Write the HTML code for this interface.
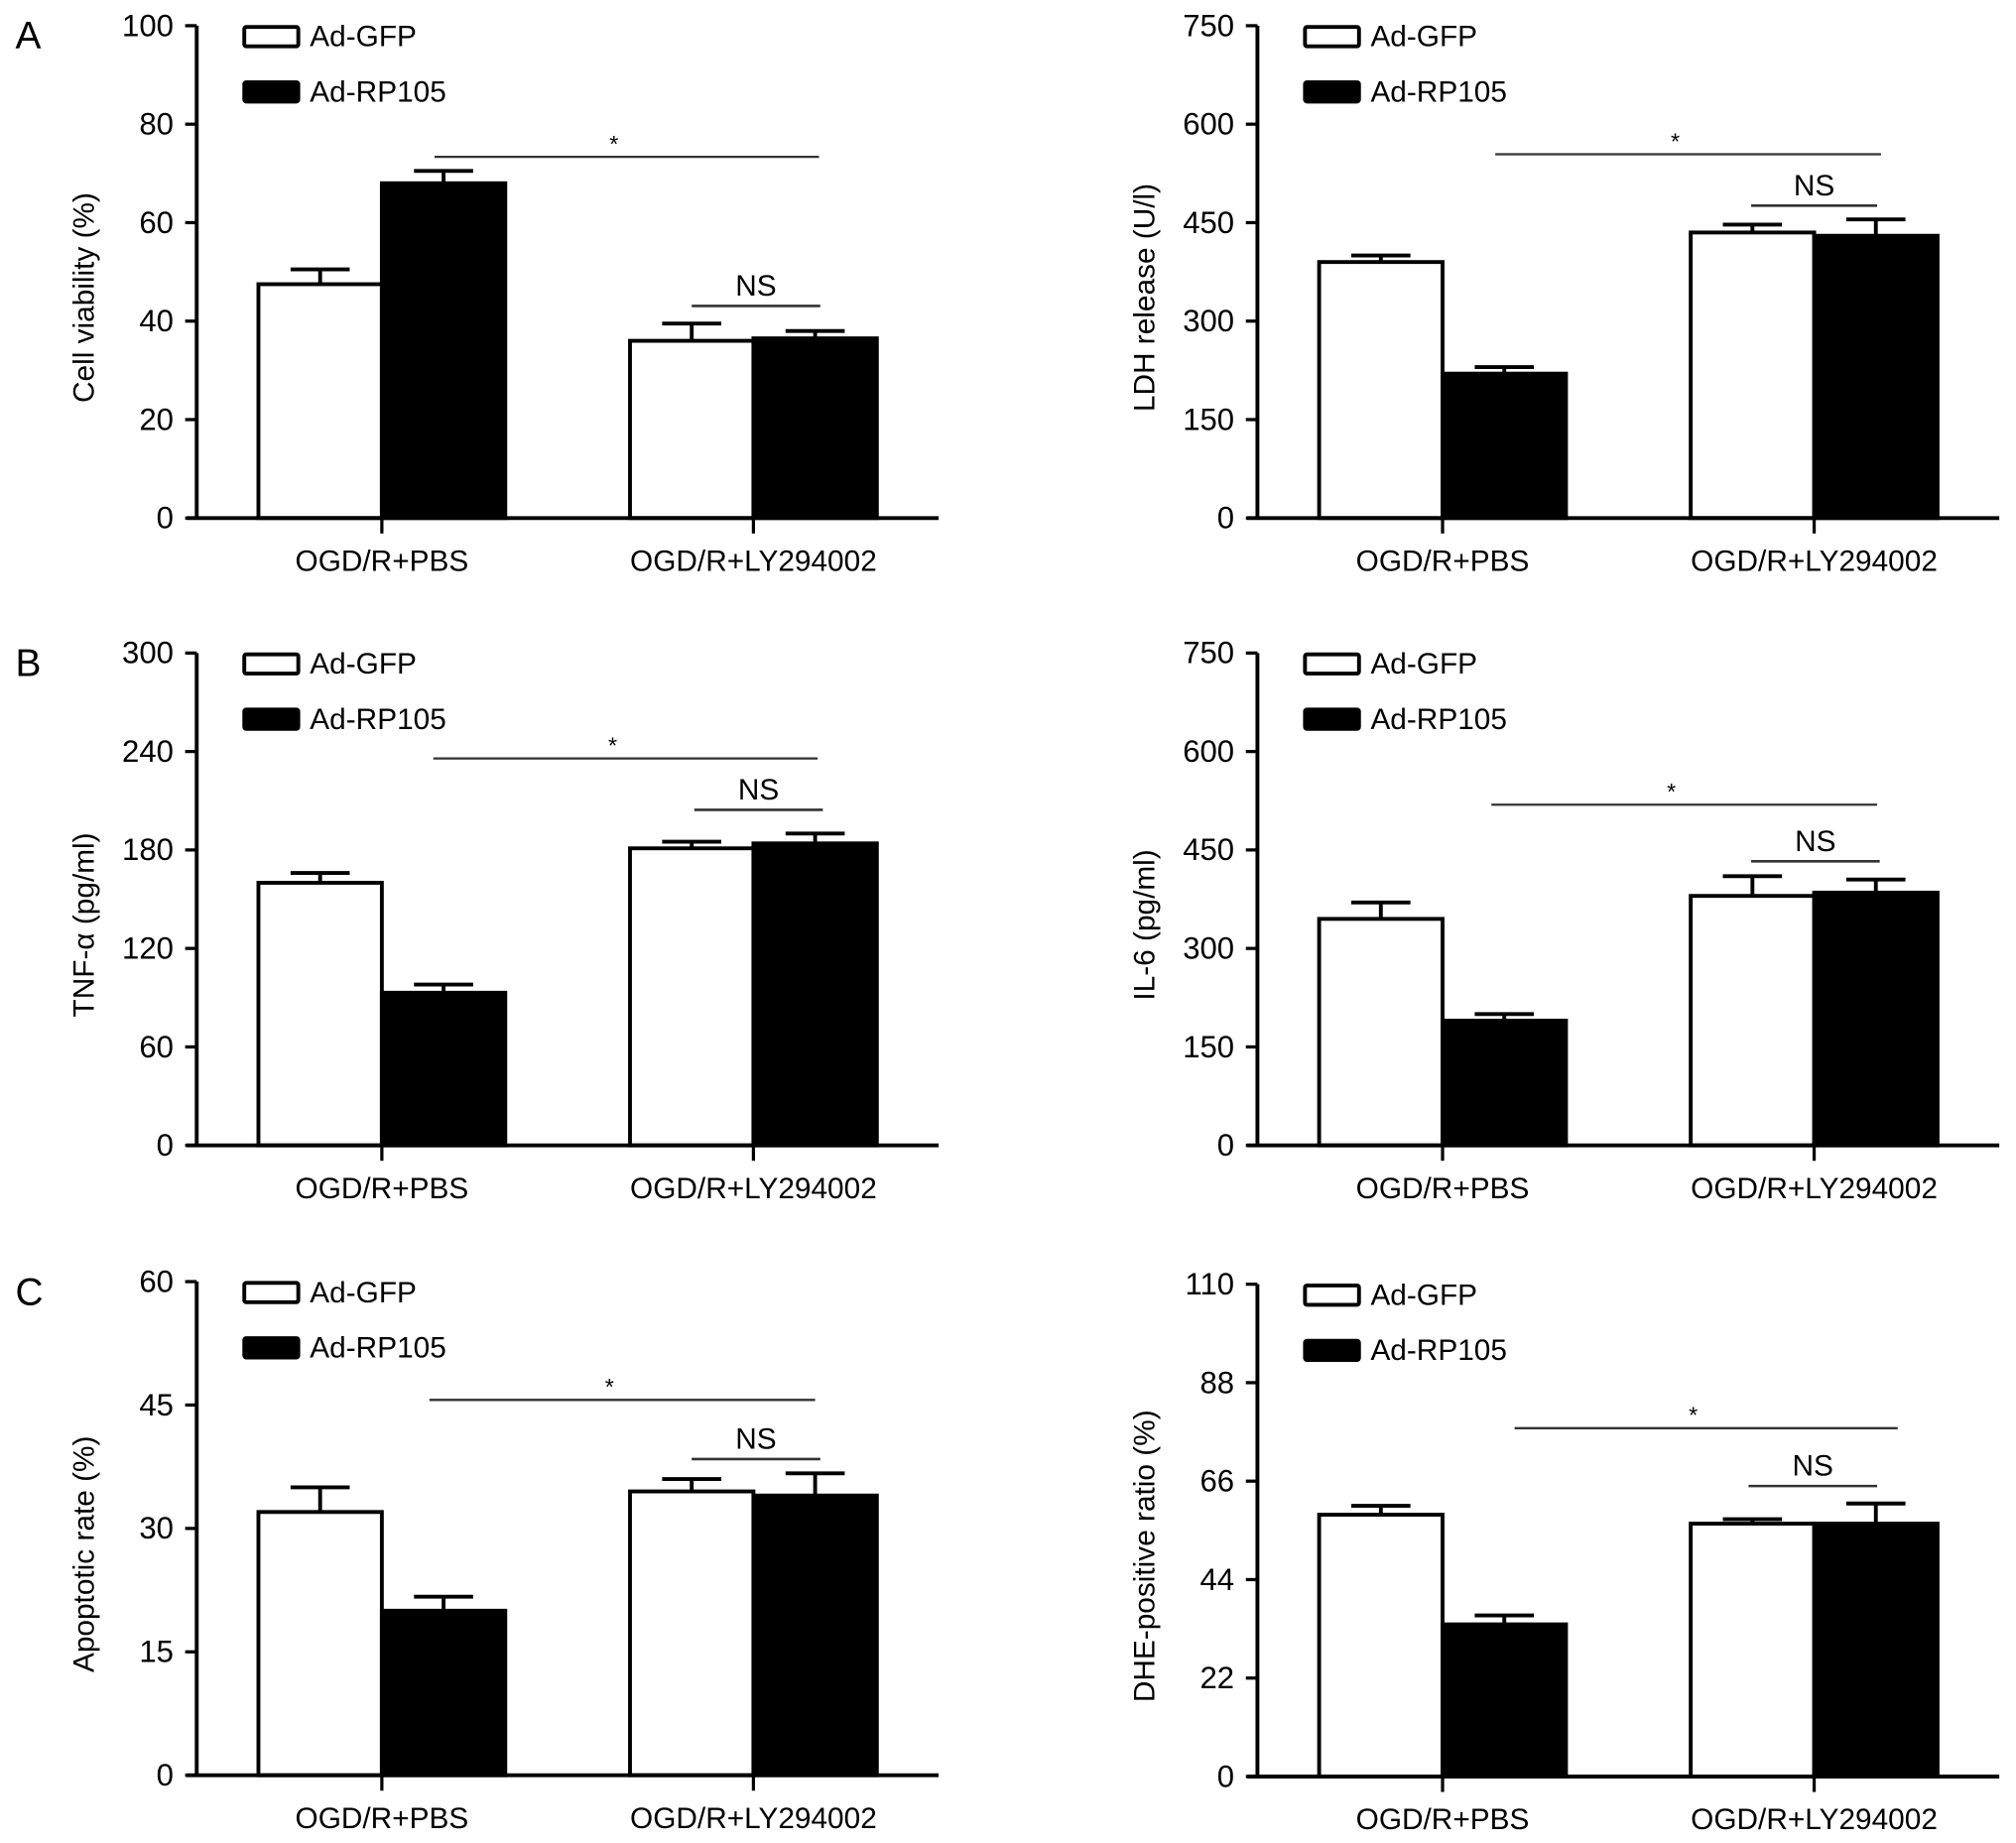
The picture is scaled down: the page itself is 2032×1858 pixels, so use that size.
<!DOCTYPE html>
<html><head><meta charset="utf-8">
<style>html,body{margin:0;padding:0;background:#fff}svg{display:block}text{font-family:"Liberation Sans",Arial,sans-serif;fill:#000}</style>
</head><body>
<svg id="fig" width="2032" height="1858" viewBox="0 0 1568 1433.7" preserveAspectRatio="none" xmlns="http://www.w3.org/2000/svg"></svg>
<script>
const groups = ["OGD/R+PBS", "OGD/R+LY294002"];
const seriesNames = ["Ad-GFP", "Ad-RP105"];
const panelTitles = ["Cell viability (%)", "LDH release (U/l)", "TNF-\u03b1 (pg/ml)", "IL-6 (pg/ml)", "Apoptotic rate (%)", "DHE-positive ratio (%)"];
const panelMax = [100, 750, 300, 750, 60, 110];
const panelTicks = [[0,20,40,60,80,100],[0,150,300,450,600,750],[0,60,120,180,240,300],[0,150,300,450,600,750],[0,15,30,45,60],[0,22,44,66,88,110]];
const gfpValues = [47.5, 390, 160, 345, 32, 58.5];
const rpValues = [68, 220, 93, 190, 20, 34];
const gfpLyValues = [36, 435, 181, 380, 34.5, 56.5];
const rpLyValues = [36.5, 430, 184, 385, 34, 56.5];
const gfpErr = [3, 10, 6, 25, 3, 2];
const rpErr = [2.5, 10, 5, 10, 1.7, 2];
const gfpLyErr = [3.5, 12, 4, 30, 1.5, 1];
const rpLyErr = [1.5, 25, 6, 20, 2.7, 4.5];
const panelLetters = ["A", "", "B", "", "C", ""];

const NS = "http://www.w3.org/2000/svg";
const svg = document.getElementById("fig");
function mk(tag, attrs, parent, txt){
  const e = document.createElementNS(NS, tag);
  for (const k in attrs) e.setAttribute(k, attrs[k]);
  if (txt !== undefined) e.textContent = txt;
  (parent || svg).appendChild(e);
  return e;
}
const layouts = [
  {ax:153, top:20, zero:403, star:[338,637,122], ns:[538,638,238]},
  {ax:978, top:20, zero:403, star:[1163,1463,120], ns:[1362,1460,160]},
  {ax:153, top:508, zero:891, star:[337,636,590], ns:[540,640,630]},
  {ax:978, top:508, zero:891, star:[1160,1460,626], ns:[1362,1462,670]},
  {ax:153, top:997, zero:1381, star:[334,634,1089], ns:[538,638,1135]},
  {ax:978, top:999, zero:1382, star:[1178,1476,1111], ns:[1360,1460,1156]}
];
for (let p = 0; p < 6; p++) {
  const L = layouts[p];
  const g = mk("g", {});
  
  
  const y = v => L.zero - (v / panelMax[p]) * (L.zero - L.top);
  const ax = L.ax;
  const gx = [ax + 144, ax + 433];
  const bw = 96;
  if (panelLetters[p]) {
    const t = mk("text", {x: 12, y: L.top + 18, "font-size": 30}, g, panelLetters[p]);
    
    
  }
  const vals = [[gfpValues[p], rpValues[p]], [gfpLyValues[p], rpLyValues[p]]];
  const errs = [[gfpErr[p], rpErr[p]], [gfpLyErr[p], rpLyErr[p]]];
  for (let gi = 0; gi < 2; gi++) {
    for (let s = 0; s < 2; s++) {
      const x0 = s === 0 ? gx[gi] - bw : gx[gi];
      const v = vals[gi][s], e = errs[gi][s];
      const cx = x0 + bw / 2;
      const eb = mk("line", {x1: cx, x2: cx, y1: y(v), y2: y(v + e), stroke: "#000", "stroke-width": 3}, g);
      
      
      const cap = mk("line", {x1: cx - 23, x2: cx + 23, y1: y(v + e), y2: y(v + e), stroke: "#000", "stroke-width": 3}, g);
      
      
      const r = mk("rect", {x: x0, y: y(v), width: bw, height: L.zero - y(v), fill: s ? "#000" : "#fff", stroke: "#000", "stroke-width": 3}, g);
      
      
    }
    const gt = mk("line", {x1: gx[gi], x2: gx[gi], y1: L.zero, y2: L.zero + 12, stroke: "#000", "stroke-width": 2.5}, g);
    
    
    const gl = mk("text", {x: gx[gi], y: L.zero + 41, "font-size": 23, "text-anchor": "middle"}, g, groups[gi]);
    
    
  }
  const ya = mk("line", {x1: ax, x2: ax, y1: L.top, y2: L.zero, stroke: "#000", "stroke-width": 3}, g);
  
  
  const xa = mk("line", {x1: ax - 8, x2: ax + 577, y1: L.zero, y2: L.zero, stroke: "#000", "stroke-width": 3}, g);
  
  
  for (const t of panelTicks[p]) {
    const tk = mk("line", {x1: ax - 9, x2: ax, y1: y(t), y2: y(t), stroke: "#000", "stroke-width": 2.5}, g);
    
    
    const tl = mk("text", {x: ax - 18, y: y(t) + 8, "font-size": 24, "text-anchor": "end"}, g, String(t));
    
    
  }
  const yt = mk("text", {x: 0, y: 0, "font-size": 23, "text-anchor": "middle", transform: `translate(${ax - 80},${(L.top + L.zero) / 2 + 20}) rotate(-90)`}, g, panelTitles[p]);
  
  
  for (let s = 0; s < 2; s++) {
    const ly = L.top + s * 43;
    const lb = mk("rect", {x: ax + 37, y: ly + 1, width: 42, height: 15, fill: s ? "#000" : "#fff", stroke: "#000", "stroke-width": 3, rx: 1.5}, g);
    
    
    const lt = mk("text", {x: ax + 88, y: ly + 16, "font-size": 23}, g, seriesNames[s]);
    
    
  }
  const sl = mk("line", {x1: L.star[0], x2: L.star[1], y1: L.star[2], y2: L.star[2], stroke: "#333", "stroke-width": 1.8}, g);
  
  
  const st = mk("text", {x: (L.star[0] + L.star[1]) / 2 - 10, y: L.star[2] - 4, "font-size": 18, "text-anchor": "middle"}, g, "*");
  
  
  const nl = mk("line", {x1: L.ns[0], x2: L.ns[1], y1: L.ns[2], y2: L.ns[2], stroke: "#333", "stroke-width": 2}, g);
  
  
  const nt = mk("text", {x: (L.ns[0] + L.ns[1]) / 2, y: L.ns[2] - 8, "font-size": 23, "text-anchor": "middle"}, g, "NS");
  
  
}
</script>
</body></html>
